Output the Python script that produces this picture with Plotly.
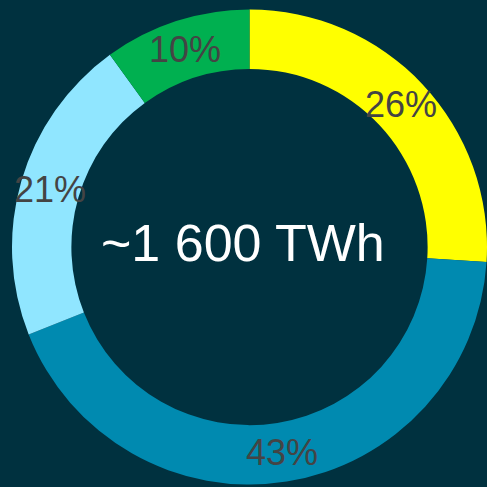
import math
import plotly.graph_objects as go

labels = ["Yellow", "Blue", "Light blue", "Green"]
values = [26, 43, 21, 10]
colors = ["#FFFF00", "#008AB0", "#90E6FF", "#00B050"]
center_text = "~1 600 TWh"

W, H = 487, 487
ML, MR, MT, MB = 12, 0, 7, 0
HOLE = 0.75
area_w, area_h = W - ML - MR, H - MT - MB
radius = min(area_w, area_h) / 2
cx, cy = area_w / 2, area_h / 2
label_r = radius * (1 + HOLE) / 2

fig = go.Figure(go.Pie(
    labels=labels,
    values=values,
    hole=HOLE,
    sort=False,
    direction="clockwise",
    rotation=0,
    marker=dict(colors=colors, line=dict(width=0)),
    textinfo="none",
    showlegend=False,
    hoverinfo="skip",
))

# percentage labels at each slice's mid-angle, centred in the ring
total = sum(values)
cum = 0
for v in values:
    mid = (cum + v / 2) / total * 2 * math.pi
    cum += v
    fig.add_annotation(
        x=cx + label_r * math.sin(mid),
        y=cy + label_r * math.cos(mid),
        xref="x", yref="y",
        text=f"{round(v / total * 100)}%",
        showarrow=False, xanchor="center", yanchor="middle",
        font=dict(family="Arial, Liberation Sans, sans-serif", size=36, color="#444444"),
    )

fig.add_annotation(
    x=0.486, y=0.508, xref="paper", yref="paper",
    text=center_text, showarrow=False,
    font=dict(family="Arial, Liberation Sans, sans-serif", size=52, color="#FFFFFF"),
    xanchor="center", yanchor="middle",
)

fig.update_layout(
    width=W, height=H,
    margin=dict(l=ML, r=MR, t=MT, b=MB),
    paper_bgcolor="#00313F",
    plot_bgcolor="rgba(0,0,0,0)",
    xaxis=dict(range=[0, area_w], visible=False, fixedrange=True),
    yaxis=dict(range=[0, area_h], visible=False, fixedrange=True),
)

fig.write_html("out.html")
